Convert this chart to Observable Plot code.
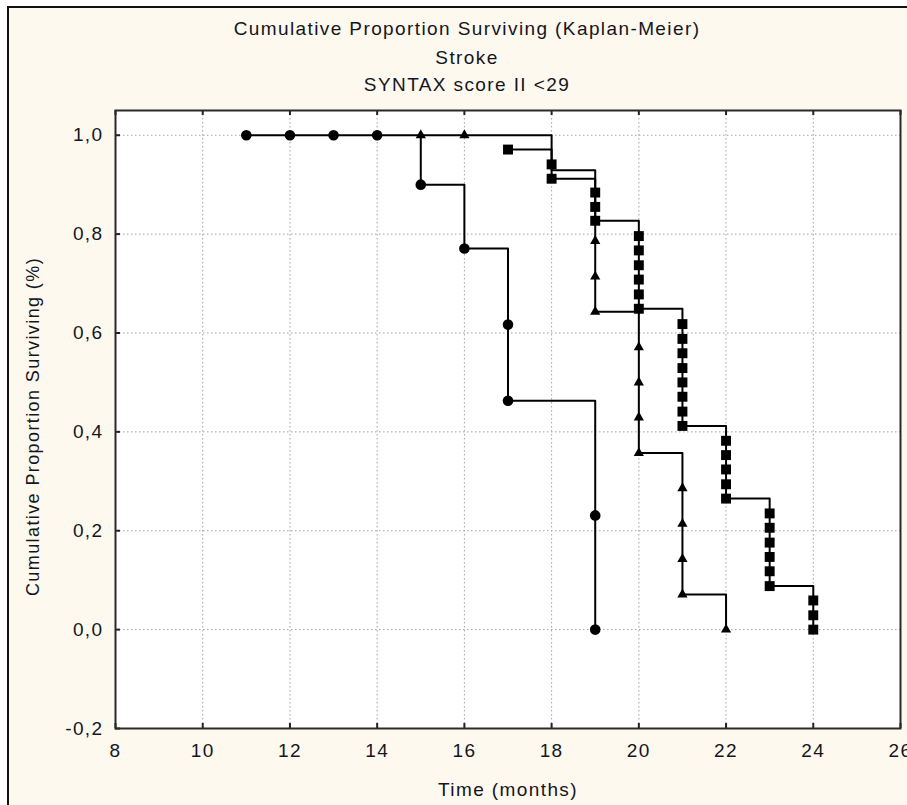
<!DOCTYPE html>
<html><head><meta charset="utf-8">
<script src="https://cdn.jsdelivr.net/npm/d3@7"></script>
<script src="https://cdn.jsdelivr.net/npm/@observablehq/plot@0.6"></script>
<style>
body{margin:0;background:#fff;overflow:hidden}
#wrap{position:relative;width:907px;height:805px;overflow:hidden}
#bg{position:absolute;left:7px;top:6px;width:1000px;height:900px;border-left:2px solid #111;border-top:2px solid #111;background:#fdf9ee;}
#chart{position:absolute;left:0;top:0}
</style></head><body><div id="wrap"><div id="bg"></div><div id="chart"></div></div>
<script>
// Titles and labels
const titleLines = ["Cumulative Proportion Surviving (Kaplan-Meier)", "Stroke", "SYNTAX score II <29"];
const xLabel = "Time (months)";
const yLabel = "Cumulative Proportion Surviving (%)";

// Tick values
const xTicks = [8, 10, 12, 14, 16, 18, 20, 22, 24, 26];
const yTicks = [-0.2, 0.0, 0.2, 0.4, 0.6, 0.8, 1.0];

// Group 1 (circles): marker times & survival
const circleT = [11, 12, 13, 14, 15, 16, 17, 17, 19, 19];
const circleS = [1.0, 1.0, 1.0, 1.0, 0.900, 0.771, 0.617, 0.463, 0.231, 0.0];
const circleStepT = [11, 15, 16, 17, 19];
const circleStepS = [1.0, 0.900, 0.771, 0.463, 0.0];

// Group 2 (triangles)
const triT = [15, 16, 19, 19, 19, 20, 20, 20, 20, 21, 21, 21, 21, 22];
const triS = [1.0, 1.0, 0.786, 0.714, 0.643, 0.571, 0.500, 0.429, 0.357, 0.286, 0.214, 0.143, 0.071, 0.0];
const triStepT = [15, 18, 19, 20, 21, 22];
const triStepS = [1.0, 0.929, 0.643, 0.357, 0.071, 0.0];

// Group 3 (squares)
const sqT = [17, 18, 18, 19, 19, 19, 20, 20, 20, 20, 20, 20,
  21, 21, 21, 21, 21, 21, 21, 21, 22, 22, 22, 22, 22,
  23, 23, 23, 23, 23, 23, 24, 24, 24];
const sqS = [0.971, 0.941, 0.912, 0.884, 0.855, 0.827, 0.796, 0.767, 0.737, 0.708, 0.678, 0.649,
  0.618, 0.588, 0.559, 0.529, 0.500, 0.471, 0.441, 0.412, 0.382, 0.353, 0.324, 0.294, 0.265,
  0.235, 0.206, 0.176, 0.147, 0.118, 0.088, 0.059, 0.029, 0.0];
const sqStepT = [17, 18, 19, 20, 21, 22, 23, 24];
const sqStepS = [0.971, 0.912, 0.827, 0.649, 0.412, 0.265, 0.088, 0.0];

const zip = (T, S) => T.map((t, i) => ({t, s: S[i]}));

const W = 907, H = 805, mL = 115, mR = 7, mT = 110, mB = 77;
const innerW = W - mL - mR, innerH = H - mT - mB;
const tickLen = 5;
const ink = "#15151f";
const fmtY = d => d.toFixed(1).replace(".", ",");
const lineOpts = {x: "t", y: "s", curve: "step-after", stroke: "#000", strokeWidth: 2};

const plot = Plot.plot({
  width: W, height: H,
  marginLeft: mL, marginRight: mR, marginTop: mT, marginBottom: mB,
  style: {background: "transparent", fontFamily: "'Liberation Sans', Arial, sans-serif", fontSize: "19px", letterSpacing: "1.4px", color: ink, overflow: "visible"},
  x: {domain: [8, 26]},
  y: {domain: [-0.2, 1.05]},
  marks: [
    Plot.frame({fill: "white"}),
    Plot.gridX(xTicks, {stroke: "#a0a0a0", strokeOpacity: 1, strokeWidth: 1, strokeDasharray: "1.5,2.5"}),
    Plot.gridY(yTicks, {stroke: "#a0a0a0", strokeOpacity: 1, strokeWidth: 1, strokeDasharray: "1.5,2.5"}),
    Plot.axisX(xTicks, {tickSize: 0, tickPadding: 15, tickFormat: d => String(d), label: null}),
    Plot.axisY(yTicks, {tickSize: 0, tickPadding: 12, tickFormat: fmtY, label: null}),
    Plot.ruleX(xTicks, {x: d => d, insetTop: innerH - tickLen, stroke: "#222", strokeWidth: 2}),
    Plot.ruleX(xTicks, {x: d => d, insetBottom: innerH - tickLen, stroke: "#222", strokeWidth: 2}),
    Plot.ruleY(yTicks, {y: d => d, insetRight: innerW - tickLen, stroke: "#222", strokeWidth: 2}),
    Plot.line(zip(circleStepT, circleStepS), lineOpts),
    Plot.line(zip(triStepT, triStepS), lineOpts),
    Plot.line(zip(sqStepT, sqStepS), lineOpts),
    Plot.dot(zip(circleT, circleS), {x: "t", y: "s", r: 5.3, fill: "#000", stroke: null}),
    Plot.dot(zip(triT, triS), {x: "t", y: "s", r: 3.8, symbol: "triangle", fill: "#000", stroke: null}),
    Plot.dot(zip(sqT, sqS), {x: "t", y: "s", r: 5.6, symbol: "square", fill: "#000", stroke: null}),
    Plot.frame({stroke: "#2a2a2a", strokeWidth: 2}),
    Plot.text([titleLines[0]], {frameAnchor: "top", dx: -41, dy: -76, lineAnchor: "bottom", textAnchor: "middle", fill: ink}),
    Plot.text([titleLines[1]], {frameAnchor: "top", dx: -41, dy: -47, lineAnchor: "bottom", textAnchor: "middle", fill: ink}),
    Plot.text([titleLines[2]], {frameAnchor: "top", dx: -41, dy: -20, lineAnchor: "bottom", textAnchor: "middle", fill: ink}),
    Plot.text([xLabel], {frameAnchor: "bottom", dy: 67, lineAnchor: "bottom", textAnchor: "middle", fill: ink}),
    Plot.text([yLabel], {frameAnchor: "left", rotate: -90, dx: -77, dy: 7, lineAnchor: "bottom", textAnchor: "middle", fontSize: 18, fill: ink})
  ]
});
document.getElementById("chart").appendChild(plot);
</script>
</body></html>
